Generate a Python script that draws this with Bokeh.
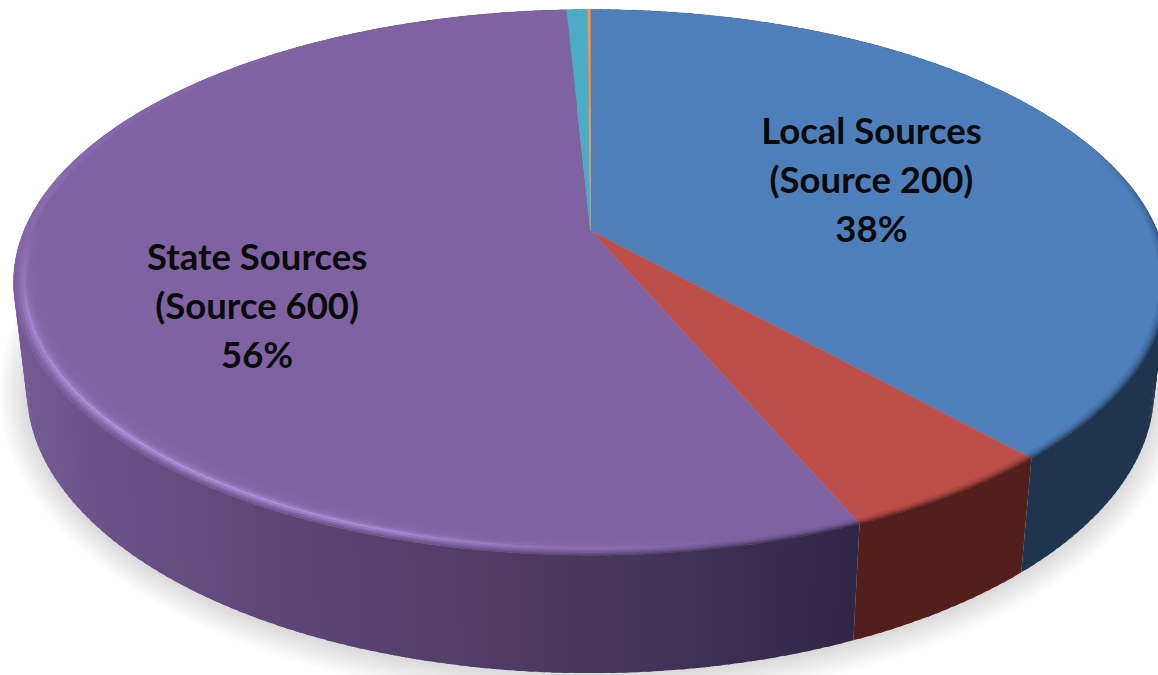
import numpy as np
from bokeh.plotting import figure
from bokeh.models import Range1d
from bokeh.core.properties import value
from bokeh.embed import file_html
from bokeh.resources import INLINE

# ---- chart values (percent, clockwise from 12 o'clock) ----
slice_names = ["Local Sources", "Other A", "State Sources", "Other B", "Other C"]
slice_values = [38.35, 5.24, 55.61, 0.7, 0.1]
top_colors = ["#4e7fbb", "#bd4f4a", "#7f62a1", "#4bacc6", "#f79646"]
side_colors = ["#1f344e", "#521f1c", None, "#2a6272", "#8a5020"]

label_lines = [["Local Sources", "(Source 200)", "38%"],
               ["State Sources", "(Source 600)", "56%"]]
label_slice = [0, 2]
label_radius = [0.554, 0.62]
label_shift = [-0.6, -12.8]

# gradient of the purple side wall: screen x -> colour
wall_x = [13, 100, 250, 400, 600, 750, 860]
wall_r = [118, 106, 95, 84, 71, 58, 47]
wall_g = [92, 82, 72, 64, 55, 45, 37]
wall_b = [152, 136, 120, 108, 92, 80, 68]

# ---- projection of the tilted disc ----
CX, CY, A, B, K = 590.0, 230.0, 566.5, 263.0, 0.19
XS, YO, YS, YC = 0.977, 389.0, 1.04, 282.0


def top(theta, r=1.0):
    t = np.radians(theta)
    w = 1 + K * r * np.cos(t)
    return CX + A * r * np.sin(t) / w, CY - B * r * np.cos(t) / w


def bottom(theta):
    x, y = top(theta)
    return CX + XS * (x - CX), YO + YS * (y - YC)


def hexcol(r, g, b):
    return "#%02x%02x%02x" % (int(round(r)), int(round(g)), int(round(b)))


edges = np.concatenate([[0.0], np.cumsum(slice_values)]) * 3.6

p = figure(width=1158, height=675, output_backend="svg", toolbar_location=None,
           x_range=Range1d(0, 1158), y_range=Range1d(675, 0), min_border=0,
           background_fill_color="white", border_fill_color="white")
p.axis.visible = False
p.grid.visible = False
p.outline_line_color = None

# soft shadow under the disc
ring = np.linspace(0, 360, 181)
bx, by = bottom(ring)
scx, scy = CX, YO
for d in np.linspace(28, 1, 18):
    sx = scx + (bx - scx) * (1 + d / 564.0)
    sy = scy + (by - scy) * (1 + d / 284.0) + 2
    p.patch(sx, sy, fill_color="black", fill_alpha=0.0085, line_color=None)

# side wall: overlapping quads, painted in order, so that no seams show
for i in range(len(slice_values)):
    a0, a1 = edges[i], edges[i + 1]
    n = max(1, int(np.ceil((a1 - a0) / 1.0)))
    th = np.linspace(a0, a1, n + 1)
    qx, qy, qc = [], [], []
    for j in range(n):
        end = min(th[j + 1] + 0.5, a1)
        tx0, ty0 = top(th[j])
        tx1, ty1 = top(end)
        bx0, by0 = bottom(th[j])
        bx1, by1 = bottom(end)
        qx.append([tx0, tx1, bx1, bx0])
        qy.append([ty0, ty1, by1, by0])
        if side_colors[i] is None:
            xm = (bx0 + bx1) / 2
            qc.append(hexcol(np.interp(xm, wall_x, wall_r),
                             np.interp(xm, wall_x, wall_g),
                             np.interp(xm, wall_x, wall_b)))
        else:
            qc.append(side_colors[i])
    p.patches(qx, qy, fill_color=qc, line_color=None)

# top face
for i in range(len(slice_values)):
    n = max(2, int(np.ceil((edges[i + 1] - edges[i]) / 0.5)))
    th = np.linspace(edges[i], edges[i + 1], n + 1)
    x, y = top(th)
    p.patch(np.concatenate([[CX], x]), np.concatenate([[CY], y]),
            fill_color=top_colors[i], line_color=top_colors[i], line_width=0.3)


def band_quads(t_from, t_to, step, r0, r1):
    out_x, out_y, mids = [], [], []
    for t0 in np.arange(t_from, t_to, step):
        t1 = t0 + step
        x0, y0 = top(t0, r0); x1, y1 = top(t1, r0)
        x2, y2 = top(t1, r1); x3, y3 = top(t0, r1)
        out_x.append([x0, x1, x2, x3]); out_y.append([y0, y1, y2, y3])
        mids.append(t0 + step / 2)
    return out_x, out_y, mids


# bevel: highlight band on the lit side
hl_theta = [168, 185, 200, 230, 250, 262, 272]
hl_alpha = [0.0, 0.35, 0.8, 0.85, 0.65, 0.35, 0.0]
bands = [(0.950, 0.960, 0.05), (0.960, 0.968, 0.1), (0.968, 0.974, 0.22), (0.974, 0.979, 0.5),
         (0.979, 0.985, 1.0), (0.985, 0.990, 0.7), (0.990, 0.995, 0.3)]
hx, hy, ha = [], [], []
for r0, r1, w in bands:
    x_, y_, m_ = band_quads(168, 272, 1.0, r0, r1)
    hx += x_; hy += y_
    ha += [w * float(np.interp(t, hl_theta, hl_alpha)) for t in m_]
p.patches(hx, hy, fill_color="#b497e0", fill_alpha=ha, line_color=None)

# faint lighter outer rim on the upper left
rim_theta = [258, 275, 335]
rim_alpha = [0.0, 0.35, 0.0]
x_, y_, m_ = band_quads(258, 335, 1.0, 0.985, 1.0)
p.patches(x_, y_, fill_color="#9b7fcb",
          fill_alpha=[float(np.interp(t, rim_theta, rim_alpha)) for t in m_], line_color=None)

# bevel: soft dark edge where the top meets the wall
dark_bands = [(0.986, 0.990, 0.1), (0.990, 0.994, 0.25), (0.994, 0.997, 0.5), (0.997, 1.001, 0.75)]
dk_theta = [70, 100, 170, 195, 240, 262]
dk_alpha = [0.0, 1.0, 1.0, 0.55, 0.5, 0.0]
dx_, dy_, dc_, da_ = [], [], [], []
for r0, r1, w in dark_bands:
    for i in range(len(slice_values)):
        a0, a1 = max(edges[i], 70.0), min(edges[i + 1], 262.0)
        if a1 <= a0:
            continue
        n = max(1, int(np.ceil((a1 - a0) / 1.0)))
        th = np.linspace(a0, a1, n + 1)
        for j in range(n):
            x0, y0 = top(th[j], r0); x1, y1 = top(th[j + 1], r0)
            x2, y2 = top(th[j + 1], r1); x3, y3 = top(th[j], r1)
            dx_.append([x0, x1, x2, x3]); dy_.append([y0, y1, y2, y3])
            xm = (x0 + x1) / 2
            if side_colors[i] is None:
                dc_.append(hexcol(np.interp(xm, wall_x, wall_r),
                                  np.interp(xm, wall_x, wall_g),
                                  np.interp(xm, wall_x, wall_b)))
            else:
                dc_.append(side_colors[i])
            da_.append(w * float(np.interp((th[j] + th[j + 1]) / 2, dk_theta, dk_alpha)))
p.patches(dx_, dy_, fill_color=dc_, fill_alpha=da_, line_color=None)

# labels
LINE = 49.0
tx, ty, tt = [], [], []
for lines, si, rad, sh in zip(label_lines, label_slice, label_radius, label_shift):
    mid = (edges[si] + edges[si + 1]) / 2 + sh
    x, y = top(mid, rad)
    for k, s in enumerate(lines):
        tx.append(float(x))
        ty.append(float(y + (k - 1) * LINE))
        tt.append(s)
p.text(tx, ty, text=tt, text_font=value("Lato"), text_font_style="bold",
       text_font_size="36.5px", text_color="#0a0a0a",
       text_align="center", text_baseline="middle")

open("out.html", "w").write(file_html(p, INLINE))
